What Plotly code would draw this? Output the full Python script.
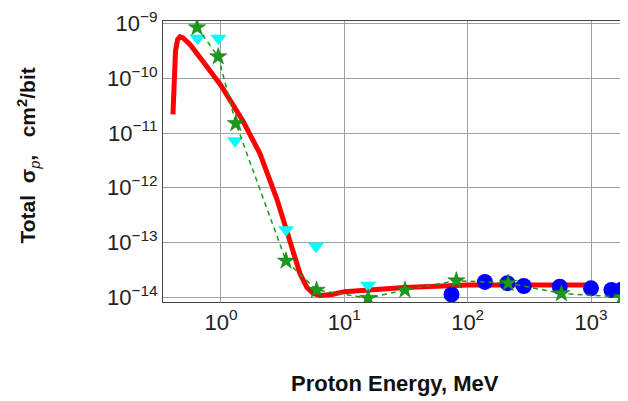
import plotly.graph_objects as go

# Red theory curve
red_E = [0.408, 0.416, 0.428, 0.445, 0.466, 0.492, 0.561, 0.741, 1.0, 1.507, 2.07, 2.84, 3.43, 4.37, 4.98, 5.57, 6.31, 7.94, 10, 30.9, 100, 1000]
red_S = [2.19e-11, 1.12e-10, 3.16e-10, 5.1e-10, 5.75e-10, 5.5e-10, 4.17e-10, 1.82e-10, 7.4e-11, 1.66e-11, 4.2e-12, 6.2e-13, 1.58e-13, 2.7e-14, 1.5e-14, 1.17e-14, 1.07e-14, 1.12e-14, 1.26e-14, 1.5e-14, 1.66e-14, 1.66e-14]

# Green stars (dashed)
star_E = [0.64, 0.95, 1.32, 3.37, 5.96, 15.6, 31, 81, 213, 576, 1780]
star_S = [8.5e-10, 2.5e-10, 1.5e-11, 4.6e-14, 1.35e-14, 9.6e-15, 1.35e-14, 2.0e-14, 1.8e-14, 1.17e-14, 1.0e-14]

# Cyan triangles
tri_E = [0.645, 0.955, 1.30, 3.37, 5.9, 15.6]
tri_S = [5.4e-10, 5.4e-10, 7.2e-12, 1.7e-13, 8.5e-14, 1.65e-14]

# Blue circles
circ_E = [74, 138, 210, 285, 558, 1000, 1465, 1780]
circ_S = [1.12e-14, 1.9e-14, 1.8e-14, 1.6e-14, 1.55e-14, 1.45e-14, 1.35e-14, 1.38e-14]

x_tickvals = [1, 10, 100, 1000]
x_ticktext = ["10<sup>0</sup>", "10<sup>1</sup>", "10<sup>2</sup>", "10<sup>3</sup>"]
y_tickvals = [1e-14, 1e-13, 1e-12, 1e-11, 1e-10, 1e-9]
y_ticktext = ["10<sup>\u221214</sup>", "10<sup>\u221213</sup>", "10<sup>\u221212</sup>",
              "10<sup>\u221211</sup>", "10<sup>\u221210</sup>", "10<sup>\u22129</sup>"]

fig = go.Figure()
fig.add_trace(go.Scatter(x=red_E, y=red_S, mode="lines",
                         line=dict(color="#ff0000", width=5), showlegend=False))
fig.add_trace(go.Scatter(x=circ_E, y=circ_S, mode="markers",
                         marker=dict(symbol="circle", size=16, color="#0000ff"), showlegend=False))
fig.add_trace(go.Scatter(x=tri_E, y=tri_S, mode="markers",
                         marker=dict(symbol="triangle-down", size=14, color="#00ffff"), showlegend=False))
fig.add_trace(go.Scatter(x=star_E, y=star_S, mode="lines+markers",
                         line=dict(color="#1a9a1a", width=1.5, dash="5px,4px"),
                         marker=dict(symbol="star", size=13, color="#1a9a1a",
                                     line=dict(color="#0d6b0d", width=0.5)),
                         showlegend=False))

fig.update_layout(
    width=620, height=393,
    margin=dict(l=155, r=0, t=6, b=99),
    paper_bgcolor="white", plot_bgcolor="white",
    font=dict(family="Liberation Sans, Arial, sans-serif", size=21, color="#222222"),
    xaxis=dict(type="log", range=[-0.47, 3.3], tickvals=x_tickvals, ticktext=x_ticktext,
               showgrid=True, gridcolor="#a0a0a0", gridwidth=1,
               showline=True, linecolor="#444444", linewidth=1.2, mirror=True,
               ticks="", zeroline=False, tickfont=dict(size=22), ticklabeloverflow="allow"),
    yaxis=dict(type="log", range=[-14.089, -8.952], tickvals=y_tickvals, ticktext=y_ticktext,
               showgrid=True, gridcolor="#a0a0a0", gridwidth=1,
               showline=True, linecolor="#444444", linewidth=1.2,
               ticks="", zeroline=False, tickfont=dict(size=22), ticklabeloverflow="allow"),
)

fig.add_annotation(xref="paper", yref="paper", x=0, y=0.5, xshift=-135, yshift=6,
                   xanchor="center", yanchor="middle", textangle=-90, showarrow=False,
                   text="<b>Total</b>\u00a0\u00a0<b>\u03c3</b><sub><i>p</i></sub><b>,</b>\u00a0\u00a0\u00a0<b>cm<sup>2</sup>/bit</b>",
                   font=dict(size=21, color="#111111"))
fig.add_annotation(xref="paper", yref="paper", x=0.5, y=0, xshift=-1, yshift=-81,
                   xanchor="center", yanchor="middle", showarrow=False,
                   text="<b>Proton Energy, MeV</b>",
                   font=dict(size=22, color="#111111"))

fig.write_html("out.html")
